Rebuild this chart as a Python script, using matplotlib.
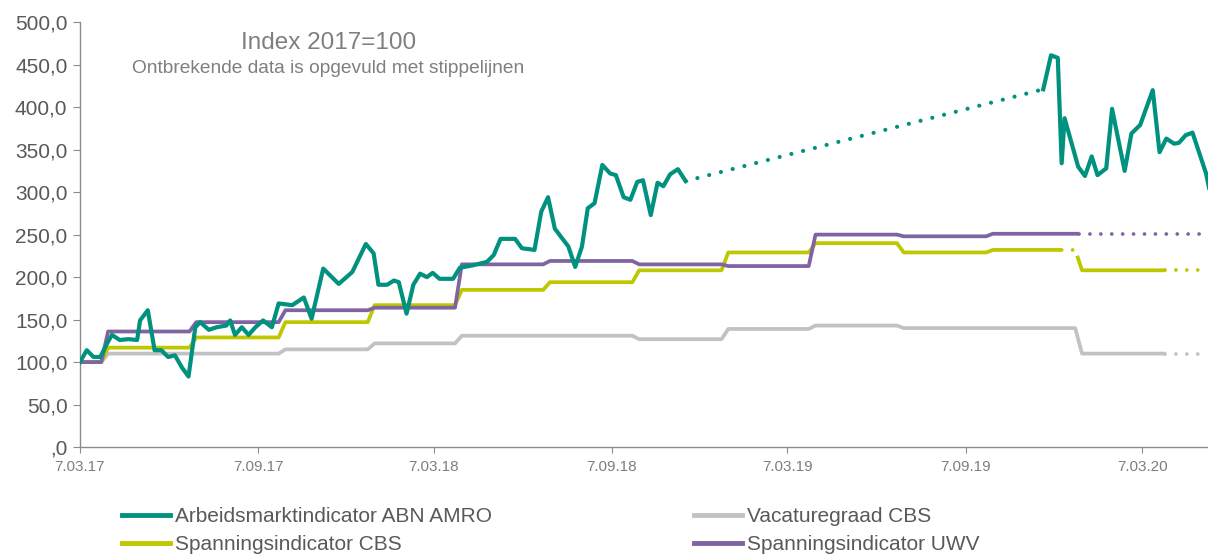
import datetime as dt
import numpy as np
import matplotlib
matplotlib.use("Agg")
import matplotlib.pyplot as plt
import matplotlib.dates as mdates
from matplotlib.lines import Line2D
from matplotlib.ticker import FuncFormatter

plt.rcParams["font.family"] = ["Liberation Sans", "DejaVu Sans"]

# ---------- data ----------
abn_dates_a = ["2017-03-07", "2017-03-14", "2017-03-21", "2017-03-28", "2017-04-04", "2017-04-09",
               "2017-04-17", "2017-04-26", "2017-05-05", "2017-05-08", "2017-05-16", "2017-05-23",
               "2017-05-30", "2017-06-06", "2017-06-13", "2017-06-20", "2017-06-27", "2017-07-04",
               "2017-07-09", "2017-07-18", "2017-07-26", "2017-08-05", "2017-08-09", "2017-08-14",
               "2017-08-21", "2017-08-28", "2017-09-04", "2017-09-12", "2017-09-21", "2017-09-28",
               "2017-10-12", "2017-10-24", "2017-11-01", "2017-11-13", "2017-11-29", "2017-12-13",
               "2017-12-27", "2018-01-04", "2018-01-09", "2018-01-18", "2018-01-25", "2018-01-30",
               "2018-02-07", "2018-02-14", "2018-02-21", "2018-02-28", "2018-03-06", "2018-03-13",
               "2018-03-27", "2018-04-03", "2018-04-17", "2018-05-01", "2018-05-08", "2018-05-15",
               "2018-05-30", "2018-06-06", "2018-06-19", "2018-06-26", "2018-07-03", "2018-07-10",
               "2018-07-24", "2018-07-31", "2018-08-07", "2018-08-13", "2018-08-20", "2018-08-28",
               "2018-09-05", "2018-09-11", "2018-09-19", "2018-09-26", "2018-10-03", "2018-10-09",
               "2018-10-17", "2018-10-24", "2018-10-30", "2018-11-06", "2018-11-14", "2018-11-22"]
abn_vals_a = [100, 114, 106, 106, 122, 132, 126, 127, 126, 149, 161, 114,
              114, 106, 108, 94, 83, 141, 147, 138, 141, 143, 149, 132,
              141, 132, 141, 149, 141, 169, 167, 176, 151, 210, 192, 206,
              239, 228, 191, 191, 196, 194, 157, 191, 204, 200, 205, 198,
              198, 211, 214, 218, 226, 245, 245, 234, 232, 277, 294, 257,
              236, 212, 236, 281, 287, 332, 322, 320, 294, 291, 312, 314,
              273, 311, 307, 321, 327, 313]
abn_dates_b = ["2019-11-26", "2019-12-04", "2019-12-11", "2019-12-15", "2019-12-18", "2020-01-01",
               "2020-01-08", "2020-01-15", "2020-01-21", "2020-01-30", "2020-02-05", "2020-02-18",
               "2020-02-25", "2020-03-05", "2020-03-18", "2020-03-25", "2020-04-01", "2020-04-09",
               "2020-04-14", "2020-04-21", "2020-04-28", "2020-05-12", "2020-05-16"]
abn_vals_b = [421, 461, 458, 334, 387, 330, 319, 342, 320, 328, 398, 325,
              369, 379, 420, 347, 363, 357, 358, 367, 370, 322, 300]

quarter_starts = ["2017-03-07", "2017-04-01", "2017-07-01", "2017-10-01", "2018-01-01",
                  "2018-04-01", "2018-07-01", "2018-10-01", "2019-01-01", "2019-04-01",
                  "2019-07-01", "2019-10-01", "2020-01-01"]
vacature_cbs = [100, 110, 110, 115, 122, 131, 131, 127, 139, 143, 140, 140, 110]
spanning_cbs = [100, 117, 129, 147, 167, 185, 194, 208, 229, 240, 229, 232, 208]
spanning_uwv = [100, 136, 147, 161, 164, 215, 219, 215, 213, 250, 248, 251, 251]

X_START, X_END = "2017-03-07", "2020-05-14"
TICK_DATES = ["2017-03-07", "2017-09-07", "2018-03-07", "2018-09-07",
              "2019-03-07", "2019-09-07", "2020-03-07"]

TEAL, GREY, LIME, PURPLE = "#00917f", "#c0c2c5", "#bfc700", "#8064a2"


def num(dates):
    return mdates.date2num([dt.datetime.fromisoformat(d) for d in dates])


def step_path(starts, levels, end):
    s = num(starts)
    xs, ys = [s[0]], [levels[0]]
    for d, prev, lv in zip(s[1:], levels[:-1], levels[1:]):
        xs += [d - 3, d + 4]
        ys += [prev, lv]
    xs.append(num([end])[0]); ys.append(levels[-1])
    return np.array(xs), np.array(ys, float)


def piece(xs, ys, a, b):
    a, b = num([a, b])
    inner = (xs > a) & (xs < b)
    px = np.concatenate([[a], xs[inner], [b]])
    py = np.concatenate([[np.interp(a, xs, ys)], ys[inner], [np.interp(b, xs, ys)]])
    return px, py


def ytick(v, p):
    s = f"{v:.1f}".replace(".", ",")
    return s.lstrip("0") if v == 0 else s


DOT = dict(linestyle=(0, (0.01, 2.9)), dash_capstyle="round")

fig = plt.figure(figsize=(12.08, 5.54), dpi=100)
ax = fig.add_axes([0.0662, 0.193, 0.9338, 0.767])

# step indicators: (series, colour, solid spans, dotted spans)
steps = [
    (vacature_cbs, GREY, [(X_START, "2020-03-31")], [("2020-03-31", X_END)]),
    (spanning_cbs, LIME, [(X_START, "2019-12-15"), ("2019-12-31", "2020-03-31")],
     [("2019-12-15", "2019-12-31"), ("2020-03-31", X_END)]),
    (spanning_uwv, PURPLE, [(X_START, "2020-01-02")], [("2020-01-02", X_END)]),
]
for vals, col, solid, dotted in steps:
    xs, ys = step_path(quarter_starts, vals, X_END)
    for a, b in solid:
        ax.plot(*piece(xs, ys, a, b), color=col, lw=2.7, solid_capstyle="butt",
                solid_joinstyle="round")
    for a, b in dotted:
        ax.plot(*piece(xs, ys, a, b), color=col, lw=2.7, **DOT)

xa, xb = num(abn_dates_a), num(abn_dates_b)
ax.plot(xa, abn_vals_a, color=TEAL, lw=3, solid_joinstyle="round", zorder=4)
ax.plot(xb, abn_vals_b, color=TEAL, lw=3, solid_joinstyle="round", zorder=4)
ax.plot([xa[-1], xb[0]], [abn_vals_a[-1], abn_vals_b[0]], color=TEAL, lw=3, zorder=4, **DOT)

# axes styling
ax.set_xlim(*num([X_START, X_END]))
ax.set_ylim(0, 500)
ax.set_yticks(np.arange(0, 501, 50))
ax.yaxis.set_major_formatter(FuncFormatter(ytick))
ax.set_xticks(num(TICK_DATES))
ax.xaxis.set_major_formatter(FuncFormatter(
    lambda v, p: f"{mdates.num2date(v).day}.{mdates.num2date(v):%m.%y}"))
for s in ("top", "right"):
    ax.spines[s].set_visible(False)
for s in ("left", "bottom"):
    ax.spines[s].set_color("#8c8c8c")
    ax.spines[s].set_linewidth(1.0)
ax.tick_params(axis="y", length=5, color="#8c8c8c", labelsize=15, labelcolor="#595959", pad=4)
ax.tick_params(axis="x", length=4, color="#8c8c8c", labelsize=11, labelcolor="#7f7f7f", pad=5)

ax.text(0.22, 0.951, "Index 2017=100", transform=ax.transAxes, ha="center", va="center",
        fontsize=17.5, color="#7f7f7f")
ax.text(0.22, 0.892, "Ontbrekende data is opgevuld met stippelijnen", transform=ax.transAxes,
        ha="center", va="center", fontsize=13.8, color="#7f7f7f")

handles = [Line2D([], [], color=TEAL, lw=3.5), Line2D([], [], color=LIME, lw=3.5),
           Line2D([], [], color=GREY, lw=3.5), Line2D([], [], color=PURPLE, lw=3.5)]
labels = ["Arbeidsmarktindicator ABN AMRO", "Spanningsindicator CBS",
          "Vacaturegraad CBS", "Spanningsindicator UWV"]
fig.legend(handles, labels, ncol=2, loc="upper left", bbox_to_anchor=(0.101, 0.084),
           frameon=False, fontsize=15, labelcolor="#595959", handlelength=2.3,
           handletextpad=0.24, columnspacing=9.7, labelspacing=0.42, borderpad=0,
           borderaxespad=0)

fig.savefig("out.png", dpi=100)
